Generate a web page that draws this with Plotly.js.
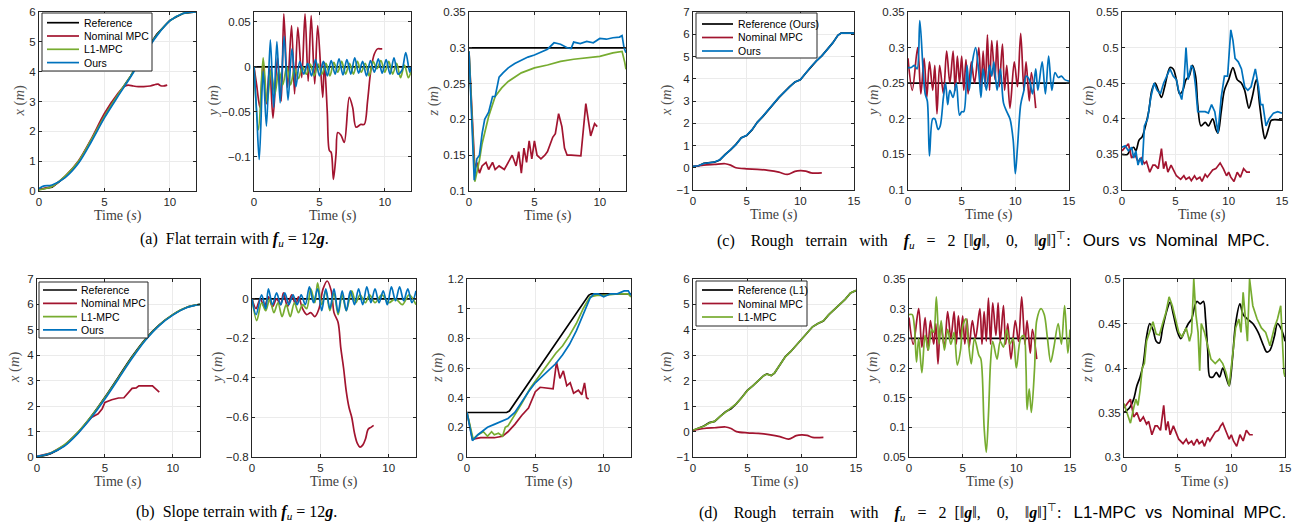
<!DOCTYPE html>
<html><head><meta charset="utf-8">
<script src="https://cdn.plot.ly/plotly-3.0.1.min.js"></script>
<style>html,body{margin:0;padding:0;background:#fff}#chart{width:1301px;height:525px}</style>
</head><body><div id="chart"></div>
<script>
// ---------- DATA ----------
// (a) flat terrain, x
const ax_ref_t = [0,1,2,3,4,5,6,7,8,9,10,11,12];
const ax_ref   = [0.05,0.13,0.47,0.95,1.7,2.5,3.2,3.85,4.6,5.25,5.72,5.95,6.0];
const ax_nom_t = [0,0.5,1,2,3,4,5,6,6.5,6.8,7.2,7.6,8,8.5,8.9,9.1,9.3,9.5,9.8];
const ax_nom   = [0.05,0.1,0.15,0.5,1.0,1.75,2.6,3.25,3.5,3.55,3.52,3.5,3.5,3.52,3.57,3.58,3.53,3.52,3.55];
const ax_l1    = [0.04,0.15,0.5,0.98,1.72,2.5,3.2,3.85,4.58,5.22,5.7,5.95,6.0];
const ax_our_t = [0,0.4,0.8,1,2,3,4,5,6,7,8,9,10,11,12];
const ax_our   = [0.08,0.17,0.18,0.2,0.45,0.92,1.65,2.45,3.15,3.82,4.55,5.2,5.7,5.95,6.0];
// (a) y
const ay_ref_t = [0,12];
const ay_ref   = [0,0];
const ay_our_t = [0,0.2,0.4,0.7,0.95,1.25,1.5,1.75,2.0,2.3,2.6,2.9,3.2,3.5,3.8,4.1,4.4,4.7,5.0,5.3,5.6,5.9,6.2,6.5,6.8,7.1,7.4,7.7,8.0,8.3,8.6,8.9,9.2,9.5,9.8,10.1,10.4,10.7,11.0,11.3,11.6,11.9,12];
const ay_our   = [0,-0.05,-0.103,-0.005,-0.066,0.03,-0.045,0.028,-0.04,0.034,-0.037,0.02,-0.022,0.006,-0.008,0.004,-0.01,0.008,-0.01,0.006,-0.01,0.007,-0.008,0.009,-0.009,0.008,-0.008,0.01,-0.007,0.006,-0.01,0.007,-0.006,0.009,-0.007,0.008,-0.008,0.01,-0.008,-0.004,0.016,-0.006,0.0];
const ay_l1_t  = [0,0.35,0.7,1.0,1.3,1.6,1.9,2.2,2.5,2.8,3.1,3.4,3.7,4.0,4.3,4.6,4.9,5.2,5.5,5.8,6.1,6.4,6.7,7.0,7.3,7.6,7.9,8.2,8.5,8.8,9.1,9.4,9.7,10.0,10.3,10.6,10.9,11.2,11.5,11.8,12];
const ay_l1    = [0,-0.07,0.01,-0.04,-0.004,-0.03,-0.004,-0.02,0.0,-0.02,-0.002,-0.013,0.0,-0.008,0.003,-0.01,0.003,-0.008,0.004,-0.01,0.005,-0.006,0.006,-0.008,0.004,-0.008,0.006,-0.006,0.004,-0.01,0.006,-0.002,0.007,-0.006,0.006,-0.008,0.004,-0.012,0.002,-0.012,-0.005];
const ay_nom_t = [0,0.2,0.45,0.7,0.94,1.2,1.45,1.8,2.08,2.28,2.56,2.87,3.1,3.35,3.65,3.9,4.14,4.37,4.64,4.87,5.25,5.38,5.6,5.76,5.9,6.07,6.27,6.4,6.65,6.9,7.28,7.54,7.8,8.17,8.43,8.68,8.93,9.19,9.44,9.7,9.8];
const ay_nom   = [0,-0.02,-0.045,0.005,-0.041,0.0,-0.057,0.01,-0.038,0.059,-0.023,0.046,-0.03,0.044,-0.012,0.059,-0.016,0.057,-0.019,0.046,-0.034,0.005,-0.05,-0.093,-0.095,-0.125,-0.097,-0.073,-0.076,-0.084,-0.034,-0.045,-0.067,-0.064,-0.064,-0.038,-0.004,0.014,0.02,0.02,0.02];
// (a) z
const az_ref_t = [0,12];
const az_ref   = [0.3,0.3];
const az_our_t = [0,0.4,0.6,0.8,1.0,1.2,1.5,1.8,2.0,2.3,2.6,3.0,3.5,4.0,4.5,5.0,5.5,6.0,6.5,7.0,7.5,7.8,8.0,8.5,9.0,9.5,10.0,10.5,11.0,11.5,11.7,11.85,12];
const az_our   = [0.295,0.115,0.145,0.15,0.18,0.2,0.21,0.232,0.232,0.259,0.265,0.272,0.278,0.283,0.287,0.29,0.294,0.298,0.307,0.305,0.3,0.299,0.308,0.306,0.309,0.307,0.313,0.312,0.314,0.315,0.317,0.3,0.293];
const az_l1_t  = [0,0.45,0.8,1.0,1.5,2.0,2.5,3.0,4.0,5.0,6.0,7.0,8.0,9.0,10.0,11.0,11.7,11.9,12];
const az_l1    = [0.295,0.113,0.143,0.166,0.204,0.232,0.244,0.253,0.265,0.272,0.276,0.281,0.284,0.286,0.288,0.293,0.295,0.28,0.27];
const az_nom_t = [0,0.45,0.6,0.8,1.0,1.3,1.5,1.8,2.0,2.3,2.7,3.0,3.3,3.6,3.8,4.0,4.2,4.4,4.6,4.8,5.0,5.2,5.5,5.8,6.0,6.4,6.6,6.85,7.1,7.3,7.5,7.8,8.55,8.93,9.1,9.3,9.6,9.8];
const az_nom   = [0.295,0.13,0.14,0.125,0.135,0.14,0.13,0.14,0.13,0.135,0.13,0.14,0.15,0.135,0.155,0.125,0.16,0.14,0.17,0.145,0.17,0.15,0.145,0.15,0.155,0.175,0.18,0.208,0.19,0.16,0.15,0.15,0.149,0.222,0.2,0.177,0.194,0.19];
// (b) slope terrain, x
const bx_ref_t = [0,1,2,3,4,5,6,7,8,9,10,11,12];
const bx_ref   = [0.0,0.13,0.45,0.95,1.6,2.35,3.15,3.95,4.65,5.2,5.6,5.88,6.0];
const bx_l1    = [0.01,0.16,0.47,0.97,1.6,2.33,3.12,3.92,4.63,5.19,5.6,5.88,6.0];
const bx_our   = [0.02,0.15,0.42,0.92,1.55,2.28,3.08,3.88,4.6,5.17,5.58,5.87,6.0];
const bx_nom_t = [0,1,2,3,4,4.2,4.5,4.8,5.0,5.5,6.0,6.4,6.8,7.0,7.3,7.5,8.0,8.5,8.7,9.0];
const bx_nom   = [0.02,0.15,0.45,0.95,1.55,1.6,1.7,1.9,2.15,2.25,2.32,2.33,2.55,2.7,2.72,2.8,2.8,2.8,2.7,2.55];
// (b) y
const by_ref_t = [0,12];
const by_ref   = [0,0];
const by_our_t = [0,0.3,0.7,1.0,1.2,1.5,1.8,2.1,2.4,2.7,3.0,3.3,3.6,3.9,4.2,4.5,4.8,5.1,5.4,5.7,6.0,6.3,6.6,6.9,7.2,7.5,7.8,8.1,8.4,8.7,9.0,9.3,9.6,9.9,10.2,10.5,10.8,11.1,11.4,11.7,12];
const by_our   = [0,-0.08,0.02,-0.05,0.05,-0.03,0.03,-0.03,0.03,-0.03,0.02,-0.03,0.02,-0.03,0.06,-0.02,0.05,-0.06,0.05,-0.05,0.05,-0.07,0.04,-0.06,0.04,-0.03,0.05,-0.03,0.06,-0.02,0.05,-0.02,0.04,-0.03,0.06,-0.01,0.06,-0.01,0.05,-0.02,0.04];
const by_l1_t  = [0,0.35,0.7,1.0,1.3,1.6,1.9,2.2,2.5,2.8,3.1,3.4,3.7,4.0,4.3,4.6,4.8,5.1,5.4,5.7,6.0,6.3,6.6,6.9,7.3,7.6,7.9,8.3,8.6,9.0,9.5,10.0,10.5,11.0,11.5,12];
const by_l1    = [0,-0.11,-0.02,-0.06,0.0,-0.07,-0.02,-0.09,-0.03,-0.09,-0.02,-0.07,-0.03,-0.05,0.05,-0.02,0.08,-0.03,0.04,-0.06,0.03,-0.08,0.02,-0.06,0.04,-0.02,0.02,-0.02,0.02,-0.02,0.02,-0.02,0.0,-0.03,0.02,-0.03];
const by_nom_t = [0,0.3,0.6,0.9,1.2,1.5,1.8,2.1,2.3,2.6,2.9,3.2,3.4,3.7,4.0,4.3,4.6,4.9,5.2,5.5,5.8,6.0,6.3,6.5,6.7,6.9,7.1,7.3,7.5,7.7,7.9,8.1,8.3,8.5,8.7,8.9];
const by_nom   = [0,-0.05,0.0,-0.04,0.01,-0.04,0.0,-0.03,0.03,-0.04,0.02,-0.03,0.01,-0.05,-0.08,-0.07,-0.09,-0.05,0.05,0.09,0.04,-0.07,-0.12,-0.25,-0.35,-0.47,-0.55,-0.6,-0.68,-0.73,-0.75,-0.74,-0.71,-0.66,-0.65,-0.64];
// (b) z
const bz_ref_t = [0,2.9,3.1,8.9,9.1,12];
const bz_ref   = [0.3,0.3,0.31,1.09,1.1,1.1];
const bz_our_t = [0,0.4,0.8,1.5,2.0,2.5,3.0,3.5,4.0,4.5,5.0,5.5,6.0,6.5,7.0,7.5,8.0,8.5,9.0,9.3,9.6,10.0,10.5,11.0,11.5,11.8,12];
const bz_our   = [0.3,0.11,0.15,0.2,0.22,0.24,0.26,0.3,0.37,0.44,0.5,0.545,0.585,0.63,0.69,0.76,0.85,0.96,1.07,1.1,1.1,1.08,1.1,1.1,1.12,1.12,1.09];
const bz_l1_t  = [0,0.45,0.8,1.2,1.5,1.8,2.0,2.3,2.6,2.8,3.0,3.4,4.0,4.6,5.0,5.5,6.0,6.5,7.0,7.5,8.0,8.5,9.0,9.5,10.0,11.0,11.8,12];
const bz_l1    = [0.3,0.12,0.15,0.17,0.14,0.17,0.15,0.16,0.14,0.2,0.21,0.27,0.36,0.46,0.51,0.57,0.64,0.7,0.75,0.82,0.9,1.0,1.08,1.09,1.09,1.1,1.1,1.08];
const bz_nom_t = [0,0.4,1.0,2.0,2.6,3.0,3.5,4.0,4.5,5.0,5.35,6.0,6.3,6.55,6.8,7.05,7.3,7.55,7.8,8.15,8.4,8.6,8.75,8.9];
const bz_nom   = [0.3,0.12,0.13,0.13,0.14,0.17,0.22,0.28,0.33,0.44,0.47,0.46,0.46,0.64,0.53,0.58,0.48,0.5,0.43,0.45,0.42,0.5,0.4,0.39];
// (c) rough terrain, Ours vs Nominal, x
const cx_ref_t = [0,0.5,1,1.5,2,2.5,3,3.5,4,4.5,5,5.5,6,6.5,7,7.5,8,8.5,9,9.5,10,10.5,11,11.5,12,12.5,13,13.5,13.8,15];
const cx_ref   = [0.05,0.08,0.2,0.22,0.25,0.35,0.6,0.8,1.05,1.35,1.45,1.7,2.05,2.3,2.6,2.9,3.15,3.4,3.65,3.85,3.95,4.25,4.55,4.8,5.03,5.3,5.6,5.95,6.05,6.05];
const cx_our   = [0.06,0.09,0.19,0.23,0.26,0.36,0.6,0.81,1.04,1.34,1.46,1.71,2.04,2.31,2.6,2.9,3.16,3.4,3.64,3.86,3.95,4.26,4.55,4.8,5.03,5.31,5.6,5.95,6.05,6.05];
const cx_nom_t = [0,1,2,3,3.5,4,5,6,7,8,8.8,9.5,10,10.5,11,12];
const cx_nom   = [0.05,0.12,0.15,0.18,0.12,0.0,-0.05,-0.07,-0.12,-0.2,-0.3,-0.16,-0.13,-0.15,-0.23,-0.23];
// (c) y
const cy_ref_t = [0,15];
const cy_ref   = [0.25,0.25];
const cy_our_t = [0,0.3,0.6,0.85,1.1,1.4,1.6,1.8,2.0,2.3,2.5,2.8,3.0,3.3,3.5,3.7,3.9,4.2,4.5,4.8,5.0,5.2,5.5,5.7,6.0,6.3,6.6,6.8,7.0,7.3,7.6,7.8,8.0,8.3,8.6,8.9,9.2,9.5,9.8,10.0,10.2,10.5,10.8,11.0,11.3,11.6,11.9,12.1,12.5,12.8,13.1,13.4,13.7,14.0,14.3,14.6,15];
const cy_our   = [0.272,0.272,0.275,0.27,0.338,0.27,0.235,0.225,0.148,0.2,0.2,0.185,0.19,0.23,0.25,0.22,0.24,0.23,0.25,0.205,0.21,0.21,0.275,0.24,0.28,0.3,0.265,0.23,0.27,0.24,0.275,0.26,0.28,0.24,0.27,0.222,0.21,0.2,0.17,0.123,0.16,0.22,0.24,0.26,0.255,0.235,0.27,0.24,0.28,0.235,0.288,0.24,0.265,0.258,0.26,0.255,0.253];
const cy_nom_t = [0,0.4,0.9,1.2,1.5,1.75,2.0,2.3,2.5,2.7,2.95,3.3,3.6,3.9,4.2,4.4,4.6,4.8,5.0,5.2,5.4,5.6,5.9,6.2,6.6,6.8,7.0,7.2,7.4,7.6,7.8,8.1,8.3,8.5,8.8,9.0,9.2,9.5,9.9,10.2,10.5,10.8,11.0,11.3,11.5,11.9];
const cy_nom   = [0.285,0.24,0.30,0.235,0.285,0.23,0.28,0.24,0.275,0.207,0.275,0.235,0.295,0.25,0.295,0.24,0.288,0.25,0.288,0.24,0.283,0.235,0.28,0.25,0.3,0.24,0.295,0.245,0.318,0.24,0.31,0.255,0.31,0.245,0.305,0.24,0.275,0.215,0.28,0.245,0.32,0.24,0.28,0.225,0.265,0.215];
// (c) z
const cz_ref_t = [0,0.5,0.8,1.1,1.3,1.6,1.9,2.2,2.5,2.8,3.1,3.4,3.7,4.0,4.5,4.8,5.1,5.4,5.7,6.0,6.3,6.6,6.9,7.1,7.4,7.8,8.1,8.5,8.8,9.0,9.3,9.6,10.0,10.4,10.8,11.2,11.5,11.9,12.2,12.6,12.9,13.2,13.4,13.8,14.0,15];
const cz_ref   = [0.35,0.35,0.357,0.36,0.355,0.37,0.375,0.39,0.41,0.44,0.45,0.44,0.43,0.445,0.472,0.47,0.455,0.435,0.44,0.455,0.46,0.475,0.46,0.42,0.39,0.395,0.39,0.4,0.385,0.38,0.41,0.44,0.455,0.472,0.455,0.45,0.44,0.415,0.43,0.455,0.42,0.385,0.372,0.39,0.398,0.398];
const cz_our_t = [0,0.3,0.6,0.9,1.1,1.3,1.5,1.7,1.9,2.1,2.4,2.7,3.0,3.3,3.6,3.9,4.2,4.5,4.8,5.1,5.3,5.6,5.8,6.0,6.2,6.5,6.7,6.9,7.1,7.4,7.8,8.1,8.4,8.7,9.0,9.3,9.6,9.9,10.2,10.4,10.6,10.9,11.2,11.5,11.8,12.1,12.5,12.8,13.0,13.2,13.5,13.8,14.2,14.6,15];
const cz_our   = [0.36,0.362,0.355,0.36,0.345,0.355,0.335,0.345,0.335,0.39,0.4,0.43,0.45,0.44,0.435,0.45,0.46,0.47,0.46,0.455,0.44,0.427,0.45,0.5,0.455,0.475,0.47,0.445,0.41,0.41,0.41,0.408,0.42,0.41,0.38,0.43,0.46,0.46,0.525,0.51,0.485,0.48,0.47,0.445,0.44,0.445,0.47,0.445,0.42,0.42,0.39,0.4,0.408,0.41,0.408];
const cz_nom_t = [0,0.3,0.6,0.9,1.2,1.5,1.8,2.1,2.3,2.6,2.9,3.1,3.4,3.7,3.9,4.1,4.3,4.6,4.9,5.1,5.5,5.8,6.0,6.3,6.5,6.8,7.0,7.3,7.5,7.8,8.0,8.3,8.5,8.8,9.0,9.2,9.5,9.8,10.0,10.2,10.5,10.8,11.1,11.4,11.7,12];
const cz_nom   = [0.355,0.36,0.365,0.345,0.35,0.34,0.345,0.337,0.34,0.325,0.335,0.335,0.33,0.358,0.33,0.34,0.325,0.335,0.325,0.32,0.315,0.32,0.315,0.318,0.313,0.32,0.315,0.318,0.312,0.322,0.318,0.325,0.328,0.33,0.335,0.338,0.33,0.32,0.325,0.318,0.312,0.325,0.318,0.33,0.325,0.325];
// (d) rough terrain, L1-MPC vs Nominal, x
const dx_ref_t = [0,0.5,1,1.5,2,2.5,3,3.5,4,4.5,5,5.5,6,6.5,6.8,7.2,7.5,8,8.5,9,9.5,10,10.5,11,11.5,12,12.5,13,13.5,14,14.5,15];
const dx_ref   = [0.05,0.12,0.22,0.35,0.4,0.6,0.78,0.9,1.1,1.35,1.62,1.8,2.0,2.2,2.27,2.2,2.3,2.65,2.95,3.15,3.4,3.65,3.9,4.12,4.25,4.35,4.6,4.8,5.0,5.2,5.45,5.55];
const dx_l1    = [0.06,0.12,0.21,0.34,0.41,0.6,0.77,0.91,1.1,1.34,1.61,1.8,2.01,2.2,2.26,2.2,2.31,2.65,2.94,3.15,3.4,3.66,3.9,4.12,4.25,4.36,4.6,4.8,5.0,5.2,5.45,5.56];
// (d) y
const dy_ref_t = [0,15];
const dy_ref   = [0.25,0.25];
const dy_l1_t  = [0,0.3,0.5,0.7,0.9,1.2,1.5,1.8,2.1,2.3,2.55,2.8,3.0,3.3,3.6,3.9,4.2,4.5,4.8,5.0,5.3,5.5,5.8,6.1,6.5,6.7,7.0,7.2,7.4,7.6,7.8,8.2,8.5,8.8,9.1,9.4,9.7,10.0,10.4,10.7,10.9,11.0,11.2,11.4,11.7,11.9,12.3,12.6,12.9,13.2,13.5,13.9,14.2,14.5,14.8,15];
const dy_l1    = [0.29,0.29,0.27,0.21,0.25,0.192,0.255,0.23,0.265,0.26,0.32,0.24,0.28,0.23,0.265,0.24,0.26,0.205,0.23,0.27,0.283,0.25,0.207,0.25,0.222,0.215,0.1,0.058,0.12,0.21,0.245,0.215,0.245,0.235,0.265,0.24,0.25,0.2,0.25,0.255,0.2,0.13,0.165,0.125,0.2,0.28,0.3,0.29,0.25,0.21,0.235,0.275,0.24,0.305,0.225,0.265];
// (d) z
const dz_ref_t = [0,0.5,0.9,1.2,1.5,1.8,2.1,2.4,2.7,3.0,3.3,3.6,4.0,4.3,4.6,5.0,5.3,5.6,6.0,6.3,6.6,6.8,7.1,7.4,7.6,7.8,8.0,8.3,8.6,8.9,9.2,9.5,9.8,10.1,10.4,10.8,11.1,11.5,12.0,12.5,13.0,13.3,13.6,14.0,14.3,14.6,14.9,15];
const dz_ref   = [0.35,0.355,0.365,0.38,0.39,0.405,0.435,0.45,0.443,0.43,0.428,0.445,0.465,0.474,0.46,0.44,0.433,0.44,0.45,0.455,0.47,0.475,0.472,0.475,0.455,0.42,0.39,0.39,0.395,0.39,0.4,0.39,0.38,0.41,0.45,0.472,0.46,0.455,0.45,0.44,0.425,0.418,0.42,0.435,0.45,0.445,0.435,0.43];
const dz_l1_t  = [0,0.3,0.6,0.9,1.1,1.3,1.5,1.7,1.9,2.1,2.4,2.7,3.0,3.3,3.6,3.9,4.2,4.5,4.8,5.1,5.4,5.8,6.1,6.3,6.5,6.7,6.9,7.05,7.2,7.5,7.8,8.1,8.5,8.9,9.2,9.5,9.8,10.1,10.4,10.7,10.9,11.1,11.3,11.5,11.7,12.0,12.4,12.8,13.2,13.6,14.0,14.3,14.6,14.7,14.9,15];
const dz_l1    = [0.36,0.35,0.338,0.355,0.365,0.358,0.375,0.4,0.405,0.43,0.44,0.452,0.438,0.437,0.45,0.462,0.48,0.47,0.455,0.44,0.435,0.445,0.43,0.44,0.5,0.46,0.44,0.397,0.45,0.44,0.425,0.41,0.405,0.41,0.405,0.395,0.38,0.415,0.445,0.455,0.44,0.485,0.46,0.43,0.5,0.47,0.455,0.445,0.44,0.425,0.445,0.455,0.47,0.44,0.395,0.39];
// legend labels
const legA_labels = ['Reference','Nominal MPC','L1-MPC','Ours'];
const legB_labels = ['Reference','Nominal MPC','L1-MPC','Ours'];
const legC_labels = ['Reference (Ours)','Nominal MPC','Ours'];
const legD_labels = ['Reference (L1)','Nominal MPC','L1-MPC'];

// ---------- STYLE / LAYOUT ----------
const W = 1301, H = 525;
const C = {ref:'#000000', nom:'#A2142F', l1:'#77AC30', our:'#0072BD'};
const panels = [
  {box:[39,196,12,191],   xr:[0,12], yr:[0,6],          dy:1,    off:20, v:'x'},
  {box:[254,411,12,191],  xr:[0,12], yr:[-0.138,0.061], dy:0.05, off:41, v:'y'},
  {box:[469,626,12,191],  xr:[0,12], yr:[0.1,0.35],     dy:0.05, off:36, v:'z'},
  {box:[693,854,12,190],  xr:[0,15], yr:[-1,7],         dy:1,    off:27, v:'x'},
  {box:[908,1069,12,190], xr:[0,15], yr:[0.1,0.35],     dy:0.05, off:35, v:'y'},
  {box:[1122,1282,12,190],xr:[0,15], yr:[0.3,0.55],     dy:0.05, off:34, v:'z'},
  {box:[37,200,279,457],  xr:[0,12], yr:[0,7],          dy:1,    off:23, v:'x'},
  {box:[252,416,279,457], xr:[0,12], yr:[-0.8,0.1],     dy:0.2,  off:35, v:'y'},
  {box:[467,631,279,457], xr:[0,12], yr:[0,1.2],        dy:0.2,  off:30, v:'z'},
  {box:[693,856,279,457], xr:[0,15], yr:[-1,6],         dy:1,    off:27, v:'x'},
  {box:[909,1070,279,457],xr:[0,15], yr:[0.05,0.35],    dy:0.05, off:37, v:'y'},
  {box:[1124,1285,279,457],xr:[0,15],yr:[0.3,0.5],      dy:0.05, off:37, v:'z'}
];

const traces = [];
function tr(p, t, v, col, name, shape){
  const id = p === 1 ? '' : String(p);
  traces.push({type:'scatter', mode:'lines', x:t, y:v, xaxis:'x'+id, yaxis:'y'+id,
    name:name || '', showlegend:false, hoverinfo:'skip',
    line:{color:col, width:1.7, shape: shape || 'linear', smoothing: 0.9}});
}
// (a)
tr(1, ax_ref_t, ax_ref, C.ref, 'Reference');
tr(1, ax_nom_t, ax_nom, C.nom, 'Nominal MPC', 'spline');
tr(1, ax_ref_t, ax_l1,  C.l1,  'L1-MPC', 'spline');
tr(1, ax_our_t, ax_our, C.our, 'Ours', 'spline');
tr(2, ay_ref_t, ay_ref, C.ref);
tr(2, ay_nom_t, ay_nom, C.nom, null, 'spline');
tr(2, ay_l1_t, ay_l1, C.l1, null, 'spline');
tr(2, ay_our_t, ay_our, C.our, null, 'spline');
tr(3, az_ref_t, az_ref, C.ref);
tr(3, az_nom_t, az_nom, C.nom);
tr(3, az_l1_t, az_l1, C.l1);
tr(3, az_our_t, az_our, C.our);
// (c)
tr(4, cx_ref_t, cx_ref, C.ref, 'Reference (Ours)');
tr(4, cx_nom_t, cx_nom, C.nom, 'Nominal MPC', 'spline');
tr(4, cx_ref_t, cx_our, C.our, 'Ours');
tr(5, cy_ref_t, cy_ref, C.ref);
tr(5, cy_nom_t, cy_nom, C.nom, null, 'spline');
tr(5, cy_our_t, cy_our, C.our, null, 'spline');
tr(6, cz_ref_t, cz_ref, C.ref, null, 'spline');
tr(6, cz_nom_t, cz_nom, C.nom);
tr(6, cz_our_t, cz_our, C.our);
// (b)
tr(7, bx_ref_t, bx_ref, C.ref, 'Reference', 'spline');
tr(7, bx_nom_t, bx_nom, C.nom, 'Nominal MPC');
tr(7, bx_ref_t, bx_l1, C.l1, 'L1-MPC', 'spline');
tr(7, bx_ref_t, bx_our, C.our, 'Ours', 'spline');
tr(8, by_ref_t, by_ref, C.ref);
tr(8, by_nom_t, by_nom, C.nom, null, 'spline');
tr(8, by_l1_t, by_l1, C.l1, null, 'spline');
tr(8, by_our_t, by_our, C.our, null, 'spline');
tr(9, bz_ref_t, bz_ref, C.ref);
tr(9, bz_nom_t, bz_nom, C.nom);
tr(9, bz_l1_t, bz_l1, C.l1);
tr(9, bz_our_t, bz_our, C.our);
// (d)
tr(10, dx_ref_t, dx_ref, C.ref, 'Reference (L1)');
tr(10, cx_nom_t, cx_nom, C.nom, 'Nominal MPC', 'spline');
tr(10, dx_ref_t, dx_l1, C.l1, 'L1-MPC');
tr(11, dy_ref_t, dy_ref, C.ref);
tr(11, cy_nom_t, cy_nom, C.nom, null, 'spline');
tr(11, dy_l1_t, dy_l1, C.l1, null, 'spline');
tr(12, dz_ref_t, dz_ref, C.ref, null, 'spline');
tr(12, cz_nom_t, cz_nom, C.nom);
tr(12, dz_l1_t, dz_l1, C.l1);

const sansF = 'Liberation Sans, Arial, sans-serif';
const serif = 'Liberation Serif, Times New Roman, serif';
const tickfont = {family:sansF, size:11.5, color:'#262626'};
const layout = {width:W, height:H, margin:{l:0,r:0,t:0,b:0}, paper_bgcolor:'#fff', plot_bgcolor:'#fff',
  showlegend:false, annotations:[], shapes:[]};

panels.forEach((p, i) => {
  const n = i + 1, id = n === 1 ? '' : String(n);
  const [l, r, t, b] = p.box;
  const common = {showline:true, mirror:'allticks', linecolor:'#262626', linewidth:1, ticks:'inside', ticklen:3,
    tickcolor:'#262626', showgrid:true, gridcolor:'#ebebeb', gridwidth:1, zeroline:false, tickfont:tickfont,
    fixedrange:true, automargin:false, tick0:0};
  layout['xaxis'+id] = Object.assign({}, common, {domain:[l/W, r/W], range:p.xr, dtick:5, anchor:'y'+id});
  layout['yaxis'+id] = Object.assign({}, common, {domain:[1-b/H, 1-t/H], range:p.yr, dtick:p.dy, anchor:'x'+id});
  layout.annotations.push({xref:'x'+id+' domain', yref:'y'+id+' domain', x:0.5, y:0, yanchor:'middle', xanchor:'center',
    yshift:-25, showarrow:false, text:'Time (<i>s</i>)', font:{family:serif, size:14, color:'#404040'}});
  layout.annotations.push({xref:'x'+id+' domain', yref:'y'+id+' domain', x:0, y:0.5, xanchor:'center', yanchor:'middle',
    xshift:-p.off, textangle:-90, showarrow:false, text:'<i>'+p.v+'</i> (<i>m</i>)', font:{family:serif, size:14.5, color:'#505050'}});
});

// MATLAB-style legend boxes
const legends = [
  {labels:legA_labels, colors:[C.ref,C.nom,C.l1,C.our], box:[42,152,13,71],  line:[47,79],   tx:82,  y0:22.7, dy:13.3},
  {labels:legC_labels, colors:[C.ref,C.nom,C.our],      box:[696,817,13,58], line:[702,733], tx:736, y0:24,   dy:13.5},
  {labels:legB_labels, colors:[C.ref,C.nom,C.l1,C.our], box:[39,148,282,338],line:[43,77],   tx:79,  y0:290,  dy:13.3},
  {labels:legD_labels, colors:[C.ref,C.nom,C.l1],       box:[696,807,281,326],line:[702,733],tx:736, y0:290,  dy:13.5}
];
legends.forEach(L => {
  const [l, r, t, b] = L.box;
  layout.shapes.push({type:'rect', xref:'paper', yref:'paper', x0:l/W, x1:r/W, y0:1-b/H, y1:1-t/H,
    fillcolor:'#fff', line:{color:'#262626', width:1}, layer:'above'});
  L.labels.forEach((lab, k) => {
    const yy = 1 - (L.y0 + k*L.dy)/H;
    layout.shapes.push({type:'line', xref:'paper', yref:'paper', x0:L.line[0]/W, x1:L.line[1]/W, y0:yy, y1:yy,
      line:{color:L.colors[k], width:1.7}, layer:'above'});
    layout.annotations.push({xref:'paper', yref:'paper', x:L.tx/W, y:yy, xanchor:'left', yanchor:'middle',
      showarrow:false, text:lab, font:{family:sansF, size:10.5, color:'#000'}});
  });
});

const NB = '\u00a0';
const sp = n => NB.repeat(n);
const sans = "<span style='font-family:Liberation Sans, Arial, sans-serif;font-size:17px'>";
const fu = '<b><i>f</i></b><sub><i>u</i></sub>', gg = '<b><i>g</i></b>';
const vec = '2'+sp(2)+'[‖'+gg+'‖,'+sp(4)+'0,'+sp(4)+'‖'+gg+'‖]<sup>⊤</sup>:'+sp(3);
const captions = [
  {x:234, y:240, text:'(a)'+sp(2)+'Flat terrain with '+fu+' = 12'+gg+'.'},
  {x:236, y:512, text:'(b)'+sp(2)+'Slope terrain with '+fu+' = 12'+gg+'.'},
  {x:993, y:240, text:'(c)'+sp(4)+'Rough'+sp(3)+'terrain'+sp(3)+'with'+sp(4)+fu+sp(3)+'='+sp(3)+vec+sans+'Ours'+sp(2)+'vs'+sp(2)+'Nominal'+sp(2)+'MPC.</span>'},
  {x:992, y:512, text:'(d)'+sp(4)+'Rough'+sp(4)+'terrain'+sp(4)+'with'+sp(4)+fu+sp(3)+'='+sp(3)+vec+sans+'L1-MPC'+sp(2)+'vs'+sp(2)+'Nominal'+sp(2)+'MPC.</span>'}
];
captions.forEach(c => layout.annotations.push({xref:'paper', yref:'paper', x:c.x/W, y:1-c.y/H, xanchor:'center', yanchor:'middle',
  showarrow:false, text:c.text, font:{family:serif, size:16, color:'#000'}}));

Plotly.newPlot('chart', traces, layout, {displayModeBar:false, staticPlot:true});
</script>
</body></html>
